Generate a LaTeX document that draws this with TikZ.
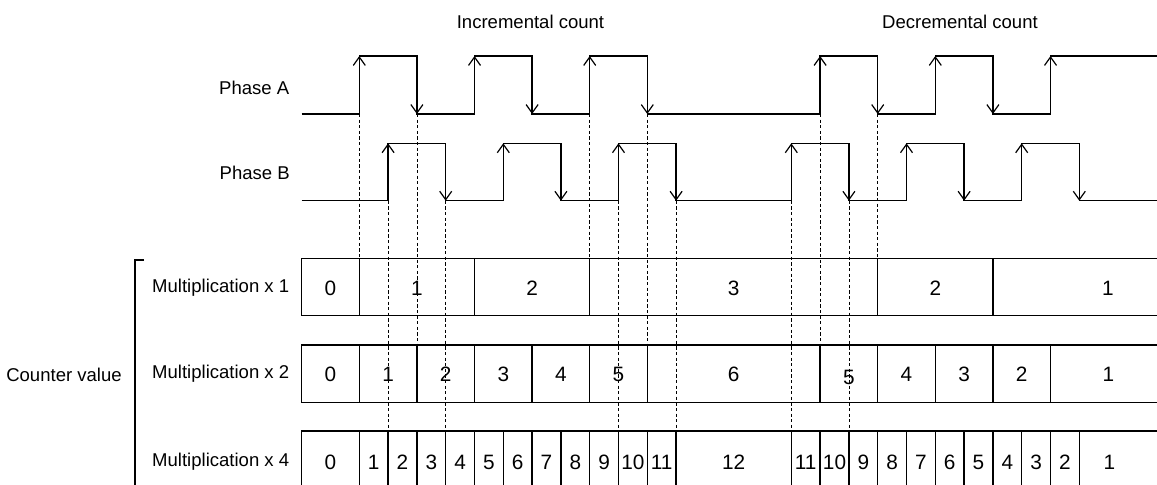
\documentclass[tikz,border=0pt]{standalone}
\usepackage{fontspec}
\setmainfont{Liberation Sans}
\usetikzlibrary{arrows.meta}
\begin{document}
\begin{tikzpicture}[x=0.75pt,y=-0.75pt,
  wave/.style={line width=1pt,line join=miter},
  edgearrow/.style={line width=1pt,-{Straight Barb[length=6.3pt,width=9pt,line width=0.9pt]}},
  boxline/.style={line width=0.95pt},
  guide/.style={line width=0.6pt,dash pattern=on 2.4pt off 1.8pt},
  lbl/.style={font=\fontsize{13.9}{16}\selectfont,inner sep=0pt},
  num/.style={font=\fontsize{15.6}{17}\selectfont,inner sep=0pt}]
\clip (0,0) rectangle (1157,485);
\fill[white] (0,0) rectangle (1157,485);
% levels
\def\aL{114}\def\aH{56}\def\bL{200.7}\def\bH{143.3}
\def\ra{258.3}\def\rb{315.7}\def\rc{345}\def\rd{402.3}\def\re{431}\def\rf{495}
% edge positions
\foreach \k in {0,...,11}{\pgfmathsetmacro\v{359.3+28.8*\k}\expandafter\xdef\csname E\k\endcsname{\v}}
\foreach \k in {0,...,10}{\pgfmathsetmacro\v{791.3+28.8*\k}\expandafter\xdef\csname D\k\endcsname{\v}}
% Phase A waveform
\draw[wave] (301.7,\aL) -- (\csname E0\endcsname,\aL) -- (\csname E0\endcsname,\aH)
 -- (\csname E2\endcsname,\aH) -- (\csname E2\endcsname,\aL) -- (\csname E4\endcsname,\aL)
 -- (\csname E4\endcsname,\aH) -- (\csname E6\endcsname,\aH) -- (\csname E6\endcsname,\aL)
 -- (\csname E8\endcsname,\aL) -- (\csname E8\endcsname,\aH) -- (\csname E10\endcsname,\aH)
 -- (\csname E10\endcsname,\aL) -- (\csname D1\endcsname,\aL) -- (\csname D1\endcsname,\aH)
 -- (\csname D3\endcsname,\aH) -- (\csname D3\endcsname,\aL) -- (\csname D5\endcsname,\aL)
 -- (\csname D5\endcsname,\aH) -- (\csname D7\endcsname,\aH) -- (\csname D7\endcsname,\aL)
 -- (\csname D9\endcsname,\aL) -- (\csname D9\endcsname,\aH) -- (1160,\aH);
% Phase B waveform
\draw[wave] (301.7,\bL) -- (\csname E1\endcsname,\bL) -- (\csname E1\endcsname,\bH)
 -- (\csname E3\endcsname,\bH) -- (\csname E3\endcsname,\bL) -- (\csname E5\endcsname,\bL)
 -- (\csname E5\endcsname,\bH) -- (\csname E7\endcsname,\bH) -- (\csname E7\endcsname,\bL)
 -- (\csname E9\endcsname,\bL) -- (\csname E9\endcsname,\bH) -- (\csname E11\endcsname,\bH)
 -- (\csname E11\endcsname,\bL) -- (\csname D0\endcsname,\bL) -- (\csname D0\endcsname,\bH)
 -- (\csname D2\endcsname,\bH) -- (\csname D2\endcsname,\bL) -- (\csname D4\endcsname,\bL)
 -- (\csname D4\endcsname,\bH) -- (\csname D6\endcsname,\bH) -- (\csname D6\endcsname,\bL)
 -- (\csname D8\endcsname,\bL) -- (\csname D8\endcsname,\bH) -- (\csname D10\endcsname,\bH)
 -- (\csname D10\endcsname,\bL) -- (1160,\bL);
% edge arrows, Phase A
\foreach \k in {E0,E4,E8,D1,D5,D9}{\draw[edgearrow] (\csname\k\endcsname,\aL) -- (\csname\k\endcsname,\aH);}
\foreach \k in {E2,E6,E10,D3,D7}{\draw[edgearrow] (\csname\k\endcsname,\aH) -- (\csname\k\endcsname,\aL);}
% edge arrows, Phase B
\foreach \k in {E1,E5,E9,D0,D4,D8}{\draw[edgearrow] (\csname\k\endcsname,\bL) -- (\csname\k\endcsname,\bH);}
\foreach \k in {E3,E7,E11,D2,D6,D10}{\draw[edgearrow] (\csname\k\endcsname,\bH) -- (\csname\k\endcsname,\bL);}
% guide lines
\foreach \k/\t in {E0/\ra,E8/\ra,D3/\ra,E2/\rc,E10/\rc,D1/\rc}{\draw[guide] (\csname\k\endcsname,\aL) -- (\csname\k\endcsname,\t);}
\foreach \k in {E1,E3,E9,E11,D0,D2}{\draw[guide] (\csname\k\endcsname,\bL) -- (\csname\k\endcsname,\re);}
% counter rows
\foreach \t/\b in {\ra/\rb,\rc/\rd,\re/\rf}{
  \draw[boxline] (1160,\t) -- (301.7,\t) -- (301.7,\b) -- (1160,\b);}
\foreach \k in {E0,E4,E8,D3,D7}{\draw[boxline] (\csname\k\endcsname,\ra) -- (\csname\k\endcsname,\rb);}
\foreach \k in {E0,E2,E4,E6,E8,E10,D1,D3,D5,D7,D9}{\draw[boxline] (\csname\k\endcsname,\rc) -- (\csname\k\endcsname,\rd);}
\foreach \k in {E0,E1,E2,E3,E4,E5,E6,E7,E8,E9,E10,E11,D0,D1,D2,D3,D4,D5,D6,D7,D8,D9,D10}{\draw[boxline] (\csname\k\endcsname,\re) -- (\csname\k\endcsname,\rf);}
% x1 values
\node[num] (a0) at (330.5,288) {0};
\node[num] (a1) at (416.9,288) {1};
\node[num] (a2) at (532.1,288) {2};
\node[num] (a3) at (733.7,288) {3};
\node[num] (a4) at (935.3,288) {2};
\node[num] (a5) at (1108,288) {1};
% x2 values
\foreach \n/\xx/\v in {0/330.5/0,1/388.1/1,2/445.7/2,3/503.3/3,4/560.9/4,5/618.5/5,6/733.7/6,8/906.5/4,9/964.1/3,10/1021.7/2,11/1108.5/1}{
  \node[num] (b\n) at (\xx,374) {\v};}
\node[num] (b7) at (848.9,377) {5};
% x4 values
\foreach \n/\xx/\v in {0/330.5/0,1/373.7/1,2/402.5/2,3/431.3/3,4/460.1/4,5/488.9/5,6/517.7/6,7/546.5/7,8/575.3/8,9/604.1/9,10/632.9/10,11/661.7/11,12/733.7/12,13/805.7/11,14/834.5/10,15/863.3/9,16/892.1/8,17/920.9/7,18/949.7/6,19/978.5/5,20/1007.3/4,21/1036.1/3,22/1064.9/2,23/1109.5/1}{
  \node[num] (c\n) at (\xx,462) {\v};}
% labels
\node[lbl] (inc) at (530.5,21.5) {Incremental count};
\node[lbl] (dec) at (960,21.5) {Decremental count};
\node[lbl,anchor=east] (pa) at (289.5,87.5) {Phase A};
\node[lbl,anchor=east] (pb) at (290,172.5) {Phase B};
\node[lbl,anchor=east] (m1) at (289.5,287.5) {Multiplication x 1};
\node[lbl,anchor=east] (m2) at (289.5,374) {Multiplication x 2};
\node[lbl,anchor=east] (m4) at (289.5,462) {Multiplication x 4};
\node[lbl] (cv) at (64,374.5) {Counter value};
% bracket
\draw[boxline] (144,260) -- (135,260) -- (135,495);
\end{tikzpicture}
\end{document}
